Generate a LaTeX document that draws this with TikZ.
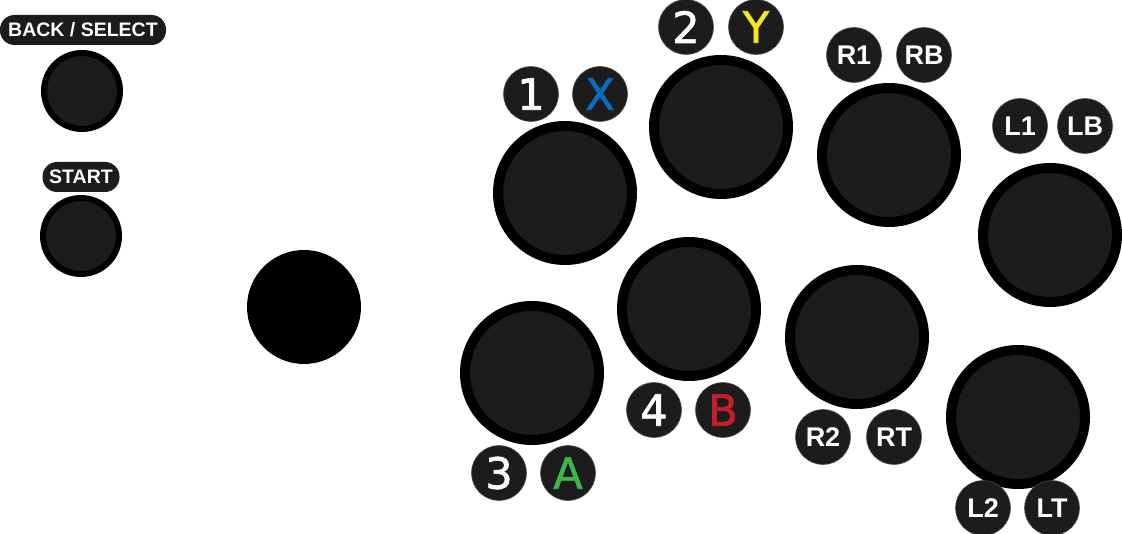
\documentclass[tikz,border=0pt]{standalone}
\usepackage{fontspec}
\setmainfont{Liberation Sans}
\newfontfamily\glyphfont[FakeBold=1.6]{DejaVu Sans}
\definecolor{btn}{HTML}{1C1C1C}
\definecolor{xblue}{HTML}{0A6EC0}
\definecolor{yyellow}{HTML}{F7E81E}
\definecolor{agreen}{HTML}{3DB54A}
\definecolor{bred}{HTML}{C4202B}
\begin{document}
\begin{tikzpicture}[x=1pt,y=-1pt,
  bigbtn/.style={circle, draw=black, fill=btn, line width=10pt, minimum size=134pt, inner sep=0pt},
  smallbtn/.style={circle, draw=black, fill=btn, line width=6pt, minimum size=76pt, inner sep=0pt},
  stick/.style={circle, fill=black, minimum size=114pt, inner sep=0pt},
  lbl/.style={circle, fill=btn, draw=black!70, line width=0.6pt, minimum size=55pt, inner sep=0pt},
  glyph/.style={lbl, font=\glyphfont\fontsize{43}{43}\selectfont},
  tag/.style={lbl, text=white, font=\bfseries\fontsize{27}{27}\selectfont},
  pill/.style={rectangle, rounded corners=14.5pt, fill=btn, text=white, inner sep=0pt,
    minimum height=30pt, font=\bfseries\fontsize{19.5}{19.5}\selectfont}]
\useasboundingbox (0,0) rectangle (1122,534);
% system buttons
\node[pill, minimum width=166pt] (backlbl) at (83,30) {BACK / SELECT};
\node[smallbtn] (back) at (82,91) {};
\node[pill, minimum width=77pt] (startlbl) at (81,177) {START};
\node[smallbtn] (start) at (81,236) {};
% joystick
\node[stick] (joy) at (304,307) {};
% main buttons
\node[bigbtn] (bx) at (565,193) {};
\node[bigbtn] (by) at (721,127) {};
\node[bigbtn] (brb) at (889,155) {};
\node[bigbtn] (blb) at (1050,235) {};
\node[bigbtn] (ba) at (532,373) {};
\node[bigbtn] (bb) at (689,309) {};
\node[bigbtn] (brt) at (857,337) {};
\node[bigbtn] (blt) at (1018,417) {};
% labels
\node[glyph, text=white] (l1) at (531,94) {1};
\node[glyph, text=xblue] (lx) at (600,94) {X};
\node[glyph, text=white] (l2) at (686,27) {2};
\node[glyph, text=yyellow] (ly) at (756,27) {Y};
\node[glyph, text=white] (l3) at (499,473) {3};
\node[glyph, text=agreen] (la) at (568,473) {A};
\node[glyph, text=white] (l4) at (654,410) {4};
\node[glyph, text=bred] (lb) at (723,410) {B};
\node[tag] (lr1) at (854,55) {R1};
\node[tag] (lrb) at (924,55) {RB};
\node[tag] (ll1) at (1020,126) {L1};
\node[tag] (llb) at (1085,126) {LB};
\node[tag] (lr2) at (823,437) {R2};
\node[tag] (lrt) at (894,437) {RT};
\node[tag] (ll2) at (983,508) {L2};
\node[tag] (llt) at (1052,508) {LT};
\end{tikzpicture}
\end{document}
